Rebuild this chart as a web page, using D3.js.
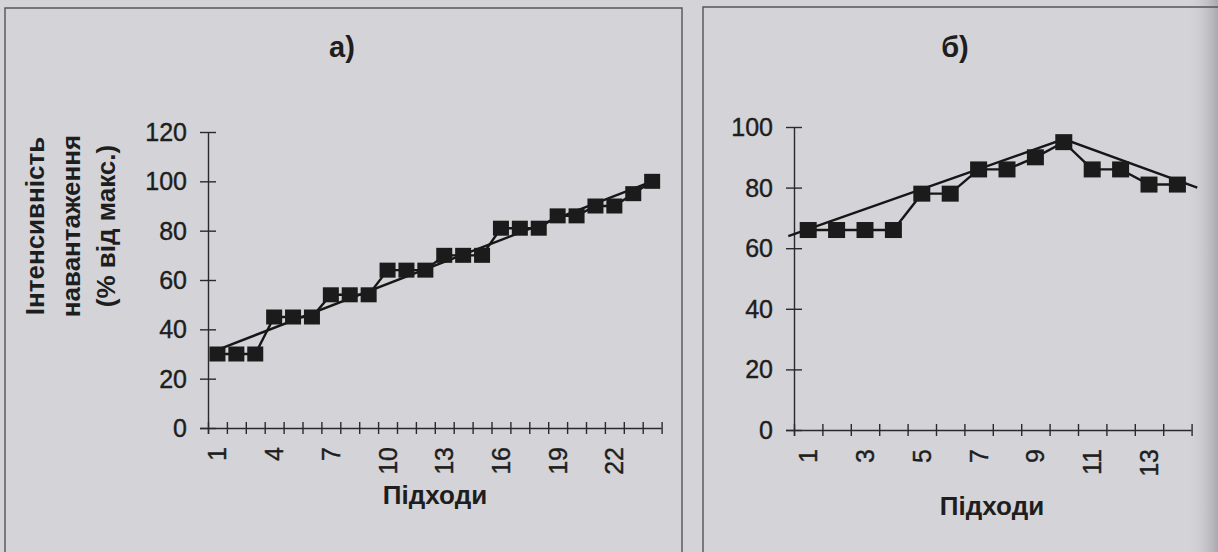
<!DOCTYPE html>
<html>
<head>
<meta charset="utf-8">
<script src="https://cdn.jsdelivr.net/npm/d3@7"></script>
<style>
  body { margin: 0; background: #d4d4d8; }
  svg { display: block; }
  text { font-family: "Liberation Sans", Arial, sans-serif; fill: #1e1e1e; }
  .lab { stroke: #1e1e1e; stroke-width: 0.4px; }
</style>
</head>
<body>
<svg width="1218" height="552"></svg>
<script>
// panel a) - approaches and load intensity (% of max)
const podkhodyA = [1,2,3,4,5,6,7,8,9,10,11,12,13,14,15,16,17,18,19,20,21,22,23,24];
const intensA = [30,30,30,45,45,45,54,54,54,64,64,64,70,70,70,81,81,81,86,86,90,90,95,100];
const xLabelsA = [1,4,7,10,13,16,19,22];
const yTicksA = [0,20,40,60,80,100,120];
// straight approximation line
const trendAx = [1, 24];
const trendAy = [31.7, 100];

// panel b)
const podkhodyB = [1,2,3,4,5,6,7,8,9,10,11,12,13,14];
const intensB = [66,66,66,66,78,78,86,86,90,95,86,86,81,81];
const xLabelsB = [1,3,5,7,9,11,13];
const yTicksB = [0,20,40,60,80,100];
const trendBx = [0.3, 10, 14.7];
const trendBy = [64, 96, 80];

const svg = d3.select("svg");

// scanned page background + dark edge on the right
const defs = svg.append("defs");
const grad = defs.append("linearGradient").attr("id", "edge")
    .attr("x1", "0").attr("x2", "1");
grad.append("stop").attr("offset", "0").attr("stop-color", "#d4d4d8").attr("stop-opacity", 0);
grad.append("stop").attr("offset", "1").attr("stop-color", "#a9a9b0").attr("stop-opacity", 1);
svg.append("rect").attr("width", 1218).attr("height", 552).attr("fill", "#d4d4d8");
svg.append("rect").attr("x", 1186).attr("width", 32).attr("height", 552).attr("fill", "url(#edge)");

// frames
svg.append("path").attr("d", "M5,560 V8 H682 V560")
    .attr("fill", "none").attr("stroke", "#555").attr("stroke-width", 1.4);
svg.append("path").attr("d", "M703,560 V7 H1230")
    .attr("fill", "none").attr("stroke", "#555").attr("stroke-width", 1.4);

function drawPanel(opt)
{
    const g = svg.append("g");
    const n = opt.cats.length;

    var xScale = d3.scaleLinear()
                    .domain([0.5, n + 0.5])
                    .range([opt.left, opt.left + n * opt.step]);
    var yScale = d3.scaleLinear()
                    .domain([0, opt.yMax])
                    .range([opt.bottom, opt.top]);

    // x axis: ticks between categories, crossing the line
    var x_axis = d3.axisBottom(xScale)
                    .tickValues(d3.range(0.5, n + 1, 1))
                    .tickFormat("")
                    .tickSizeOuter(0);
    var gx = g.append("g")
        .attr("transform", `translate(0, ${opt.bottom})`)
        .call(x_axis);
    gx.select(".domain").attr("d", `M${opt.left - 8},0.5H${xScale(n + 0.5)}`);
    gx.selectAll(".tick line").attr("y1", -6).attr("y2", 6);

    // x tick labels, rotated
    g.selectAll(".xlab")
        .data(opt.xLabels)
        .enter()
        .append("text")
        .attr("class", "xlab lab")
        .attr("transform", d => `translate(${xScale(d)}, ${opt.bottom + 19}) rotate(-90)`)
        .attr("dy", "0.36em")
        .attr("text-anchor", "end")
        .style("font-size", "25px")
        .text(d => d);

    // y axis
    var y_axis = d3.axisLeft(yScale)
                    .tickValues(opt.yTicks)
                    .tickFormat("")
                    .tickSizeOuter(0);
    var gy = g.append("g")
        .attr("transform", `translate(${opt.left}, 0)`)
        .call(y_axis);
    gy.select(".domain").attr("d", `M0.5,${opt.top}V${opt.bottom + 6}`);
    gy.selectAll(".tick line").attr("x1", -8).attr("x2", 8);

    g.selectAll(".ylab")
        .data(opt.yTicks)
        .enter()
        .append("text")
        .attr("class", "lab")
        .attr("x", opt.left - 21)
        .attr("y", d => yScale(d))
        .attr("dy", "0.36em")
        .attr("text-anchor", "end")
        .style("font-size", "25px")
        .text(d => d);

    g.selectAll(".domain, .tick line")
        .attr("stroke", "#2a2a2a").attr("stroke-width", 1.4);

    // approximation line
    var trend = d3.range(opt.trendX.length).map(i => [opt.trendX[i], opt.trendY[i]]);
    g.append("path")
        .attr("d", d3.line().x(d => xScale(d[0])).y(d => yScale(d[1]))(trend))
        .attr("fill", "none").attr("stroke", "#161616").attr("stroke-width", 2.4);

    // data line + square markers
    var pts = opt.cats.map((c, i) => ({x: c, y: opt.values[i]}));
    g.append("path")
        .attr("d", d3.line().x(d => xScale(d.x)).y(d => yScale(d.y))(pts))
        .attr("fill", "none").attr("stroke", "#161616").attr("stroke-width", 2.4);
    g.selectAll(".mk")
        .data(pts)
        .enter()
        .append("rect")
        .attr("x", d => xScale(d.x) - opt.mk / 2)
        .attr("y", d => yScale(d.y) - opt.mk / 2 + 0.5)
        .attr("width", opt.mk)
        .attr("height", opt.mk - 1)
        .attr("fill", "#1b1b1b");

    // titles
    g.append("text")
        .attr("x", opt.titleX).attr("y", 57)
        .attr("text-anchor", "middle")
        .style("font-size", "29px").style("font-weight", "bold")
        .text(opt.title);
    g.append("text")
        .attr("x", opt.xTitleX).attr("y", opt.xTitleY)
        .attr("text-anchor", "middle")
        .style("font-size", "26px").style("font-weight", "bold")
        .text("Підходи");
}

drawPanel({
    cats: podkhodyA, values: intensA, xLabels: xLabelsA, yTicks: yTicksA, yMax: 120,
    trendX: trendAx, trendY: trendAy,
    left: 208, step: 18.9, top: 132, bottom: 428, mk: 16,
    title: "а)", titleX: 342, xTitleX: 435, xTitleY: 504
});

drawPanel({
    cats: podkhodyB, values: intensB, xLabels: xLabelsB, yTicks: yTicksB, yMax: 100,
    trendX: trendBx, trendY: trendBy,
    left: 794, step: 28.4, top: 127, bottom: 430, mk: 17,
    title: "б)", titleX: 955, xTitleX: 992, xTitleY: 515
});

// y title for panel a), three rotated lines
const yTitleLines = ["Інтенсивність", "навантаження", "(% від макс.)"];
svg.selectAll(".ytitle")
    .data(yTitleLines)
    .enter()
    .append("text")
    .attr("transform", (d, i) => `translate(${44 + i * 35.5}, 226) rotate(-90)`)
    .attr("text-anchor", "middle")
    .style("font-size", "26px").style("font-weight", "bold")
    .text(d => d);
</script>
</body>
</html>
